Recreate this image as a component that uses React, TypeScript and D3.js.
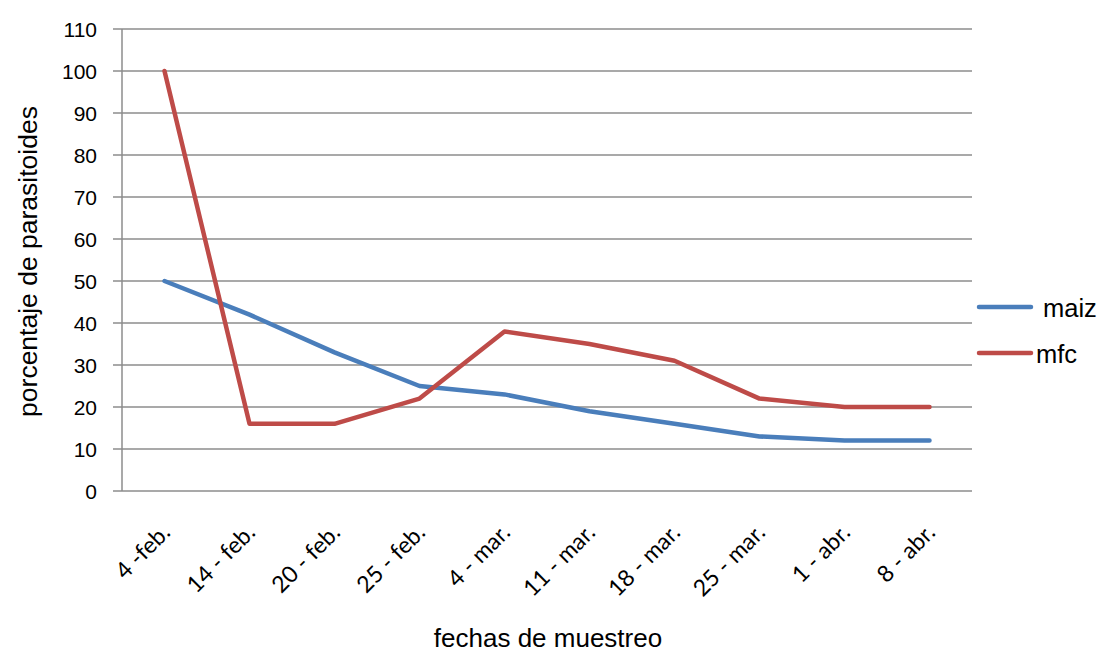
import React from "react";
import * as d3 from "d3";

const categories = ["4 -feb.", "14 - feb.", "20 - feb.", "25 - feb.", "4 - mar.", "11 - mar.", "18 - mar.", "25 - mar.", "1 - abr.", "8 - abr."];
const maiz = [50, 42, 33, 25, 23, 19, 16, 13, 12, 12];
const mfc = [100, 16, 16, 22, 38, 35, 31, 22, 20, 20];
const yTicks = [0, 10, 20, 30, 40, 50, 60, 70, 80, 90, 100, 110];

const W = 1102, H = 653;
const left = 122, right = 972, top = 29, bottom = 491;

export default function App() {
  const x = d3.scaleBand<string>().domain(categories).range([left, right]);
  const y = d3.scaleLinear().domain([0, 110]).range([bottom, top]);
  const cx = (c: string) => (x(c) as number) + x.bandwidth() / 2;
  const line = d3.line<number>().x((_, i) => cx(categories[i])).y((d) => y(d));
  const series = [
    { name: "maiz", values: maiz, color: "#4a7ebb", ly: 307, tx: 1043 },
    { name: "mfc", values: mfc, color: "#be4b48", ly: 353, tx: 1036 },
  ];
  return (
    <svg width={W} height={H} style={{ position: "absolute", left: 0, top: 0, background: "#fff" }}>
      {yTicks.map((t) => (
        <g key={t}>
          <line x1={113} x2={right} y1={y(t)} y2={y(t)} stroke="#8c8c8c" strokeWidth={1.5} />
          <text x={97} y={y(t)} dy="0.36em" textAnchor="end" fontFamily="Liberation Sans, Arial" fontSize={21} fill="#000">{t}</text>
        </g>
      ))}
      <line x1={left} x2={left} y1={top} y2={bottom} stroke="#8c8c8c" strokeWidth={1.5} />
      {categories.map((c) => (
        <text key={c} transform={`translate(${cx(c) + 7},${bottom + 43}) rotate(-45)`} textAnchor="end" fontFamily="Lato, Open Sans, sans-serif" fontSize={23} fill="#000">{c}</text>
      ))}
      {series.map((s) => (
        <path key={s.name} d={line(s.values) || ""} fill="none" stroke={s.color} strokeWidth={4.5} strokeLinejoin="round" strokeLinecap="round" />
      ))}
      {series.map((s) => (
        <g key={s.name + "l"}>
          <line x1={979} x2={1031} y1={s.ly} y2={s.ly} stroke={s.color} strokeWidth={4.5} strokeLinecap="round" />
          <text x={s.tx} y={s.ly + 10} fontFamily="Liberation Sans, Arial" fontSize={25.5} fill="#000">{s.name}</text>
        </g>
      ))}
      <text x={548} y={647} textAnchor="middle" fontFamily="Liberation Sans, Arial" fontSize={26} fill="#000">fechas de muestreo</text>
      <text transform={`translate(37,261.5) rotate(-90)`} textAnchor="middle" fontFamily="Liberation Sans, Arial" fontSize={26.5} fill="#000">porcentaje de parasitoides</text>
    </svg>
  );
}
